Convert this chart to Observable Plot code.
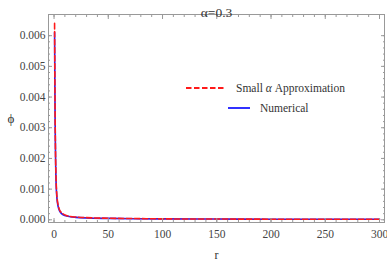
<!DOCTYPE html>
<html><head><meta charset="utf-8">
<script src="https://cdn.jsdelivr.net/npm/d3@7"></script>
<script src="https://cdn.jsdelivr.net/npm/@observablehq/plot@0.6"></script>
<style>
body{margin:0;background:#fff;}
#wrap{position:relative;width:387px;height:262px;font-family:"Liberation Serif";}
#wrap svg text{font-family:"Liberation Serif" !important;}
.leg{position:absolute;font-size:11.5px;color:#333;white-space:nowrap;}
</style>
</head><body><div id="wrap"></div>
<script>
const title = "α=0.3";
const xLabel = "r";
const yLabel = "ϕ";
const rValues = [0.5, 0.75, 1, 1.5, 2, 2.5, 3, 4, 5, 7, 10, 15, 20, 30, 50, 75, 100, 150, 200, 250, 300];
const approx = [0.0064, 0.0048, 0.0034, 0.0019, 0.0012, 0.00085, 0.00065, 0.00045, 0.00033, 0.00023, 0.00016, 0.00011, 0.00009, 0.00007, 0.00005, 0.00004, 0.00003, 0.000025, 0.00002, 0.000018, 0.000016];
const numerical = [0.0061, 0.0045, 0.0032, 0.0018, 0.0011, 0.00078, 0.0006, 0.0004, 0.0003, 0.0002, 0.00014, 0.0001, 0.00008, 0.00006, 0.000045, 0.000035, 0.00003, 0.000025, 0.00002, 0.000018, 0.000016];
const xTicks = [0, 50, 100, 150, 200, 250, 300];
const yTicks = [0, 0.001, 0.002, 0.003, 0.004, 0.005, 0.006];
const legendLabels = ["Small α Approximation", "Numerical"];

const xMinor = d3.range(0, 301, 10);
const yMinor = d3.range(0, 31).map(i => i * 0.0002);
const approxData = rValues.map((r, i) => ({r, v: approx[i]}));
const numData = rValues.map((r, i) => ({r, v: numerical[i]}));
const grey = "#999";
const serif = "Liberation Serif";

const plot = Plot.plot({
  width: 387, height: 262,
  marginLeft: 48, marginRight: 3, marginTop: 14, marginBottom: 40,
  style: {fontFamily: serif, fontSize: "11.5px", color: "#444", background: "#fff"},
  x: {domain: [-5.1, 304.6]},
  y: {domain: [-0.000088, 0.00669]},
  marks: [
    Plot.line(numData, {x: "r", y: "v", stroke: "#1a1aff", strokeWidth: 1.6, clip: true, curve: "monotone-x"}),
    Plot.line(approxData, {x: "r", y: "v", stroke: "#ff1a1a", strokeWidth: 1.6, strokeDasharray: "5.5,2.5", clip: true, curve: "monotone-x"}),
    Plot.frame({stroke: grey}),
    Plot.axisX(xTicks, {anchor: "bottom", tickSize: -4, stroke: grey, tickPadding: 11, label: null, tickFormat: d => d, fill: "#444"}),
    Plot.axisX(xMinor, {anchor: "bottom", tickSize: -2, stroke: grey, text: null, label: null}),
    Plot.axisX(xTicks, {anchor: "top", tickSize: -4, stroke: grey, text: null, label: null}),
    Plot.axisX(xMinor, {anchor: "top", tickSize: -2, stroke: grey, text: null, label: null}),
    Plot.axisY(yTicks, {anchor: "left", tickSize: -4, stroke: grey, tickPadding: 7, label: null, tickFormat: d3.format(".3f"), fill: "#444"}),
    Plot.axisY(yMinor, {anchor: "left", tickSize: -2, stroke: grey, text: null, label: null}),
    Plot.axisY(yTicks, {anchor: "right", tickSize: -4, stroke: grey, text: null, label: null}),
    Plot.axisY(yMinor, {anchor: "right", tickSize: -2, stroke: grey, text: null, label: null}),
    Plot.text([title], {frameAnchor: "top", dy: -7, text: d => d, fontSize: 13.5, fill: "#333"}),
    Plot.text([xLabel], {frameAnchor: "bottom", dy: 36, text: d => d, fontSize: 12, fill: "#333"}),
    Plot.text([yLabel], {frameAnchor: "left", dx: -41, text: d => d, fontSize: 13, fill: "#333"})
  ]
});
const wrap = document.getElementById("wrap");
wrap.appendChild(plot);

function legendItem(top, left, lineW, color, dash, label) {
  const d = document.createElement("div");
  d.className = "leg";
  d.style.top = top + "px"; d.style.left = left + "px";
  d.innerHTML = `<svg width="${lineW}" height="6" style="vertical-align:middle;margin-right:10px"><line x1="0" x2="${lineW}" y1="3" y2="3" stroke="${color}" stroke-width="1.8" ${dash ? 'stroke-dasharray="5.5,2.5"' : ''}/></svg><span style="vertical-align:middle">${label.replace("α", "<i>α</i>")}</span>`;
  wrap.appendChild(d);
}
legendItem(81, 186, 40, "#ff1a1a", true, legendLabels[0]);
legendItem(101, 228, 22, "#1a1aff", false, legendLabels[1]);
</script>
</body></html>
